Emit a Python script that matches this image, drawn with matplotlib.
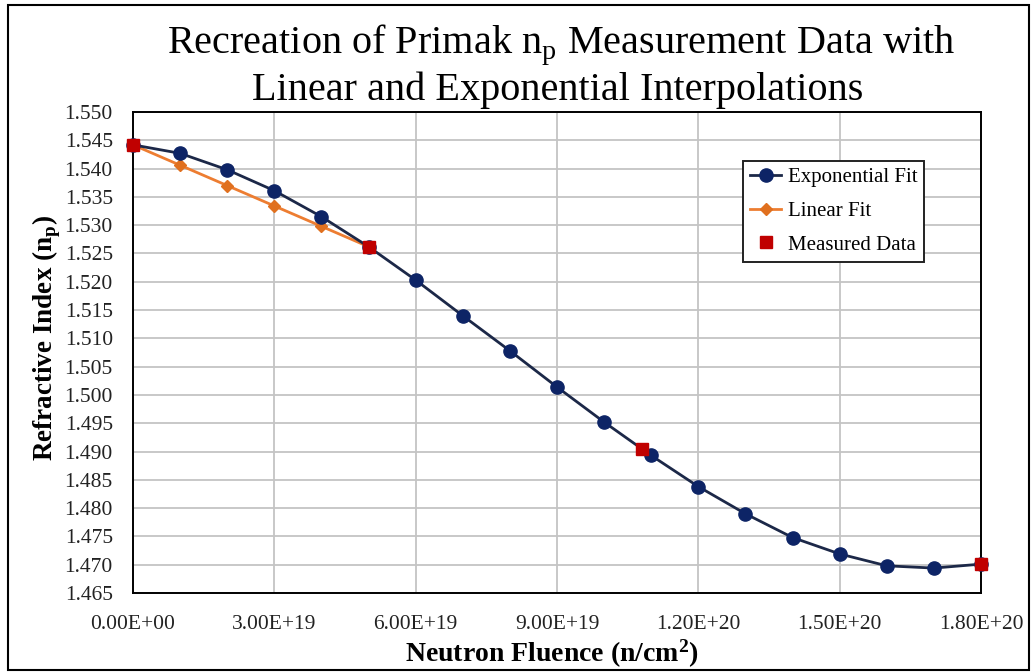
import matplotlib
matplotlib.use("Agg")
import matplotlib.pyplot as plt
from matplotlib.patches import Rectangle
from matplotlib.ticker import FuncFormatter

plt.rcParams['font.family'] = ['Liberation Serif', 'DejaVu Serif']
plt.rcParams['mathtext.fontset'] = 'custom'
plt.rcParams['mathtext.rm'] = 'Liberation Serif'
plt.rcParams['mathtext.bf'] = 'Liberation Serif:bold'

# fluence (n/cm^2) and refractive index n_p
exp_fluence = [0, 1e19, 2e19, 3e19, 4e19, 5e19, 6e19, 7e19, 8e19, 9e19,
               1.0e20, 1.1e20, 1.2e20, 1.3e20, 1.4e20, 1.5e20, 1.6e20, 1.7e20, 1.8e20]
exp_index = [1.5442, 1.5427, 1.5398, 1.5361, 1.5315, 1.5262, 1.5203, 1.5140, 1.5078, 1.5014,
             1.4952, 1.4893, 1.4838, 1.4790, 1.4748, 1.4719, 1.4698, 1.4694, 1.4701]

lin_fluence = [0, 1e19, 2e19, 3e19, 4e19, 5e19]
lin_index = [1.5442, 1.5406, 1.5370, 1.5334, 1.5298, 1.5262]

meas_fluence = [0, 5e19, 1.08e20, 1.8e20]
meas_index = [1.5442, 1.5262, 1.4904, 1.4701]

x_ticks = [0, 3e19, 6e19, 9e19, 1.2e20, 1.5e20, 1.8e20]
y_ticks = [1.465 + 0.005 * i for i in range(18)]

fig = plt.figure(figsize=(10.31, 6.72), dpi=100)
ax = fig.add_axes([0.129, 0.1176, 0.8225, 0.7157])

ax.plot(exp_fluence, exp_index, color='#1c2848', lw=2, marker='o', ms=9.5,
        mfc='#0d2466', mec='#0d2466', label='Exponential Fit', zorder=3, clip_on=False)
ax.plot(lin_fluence, lin_index, color='#ed7d31', lw=2, marker='D', ms=6.5,
        mfc='#e0701f', mec='#e0701f', label='Linear Fit', zorder=2, clip_on=False)
ax.plot(meas_fluence, meas_index, ls='none', marker='s', ms=9,
        mfc='#c00000', mec='#c00000', label='Measured Data', zorder=4, clip_on=False)

ax.set_xlim(0, 1.8e20)
ax.set_ylim(1.465, 1.550)
ax.set_xticks(x_ticks)
ax.set_yticks(y_ticks)
ax.xaxis.set_major_formatter(FuncFormatter(lambda v, p: '{:.2E}'.format(v)))
ax.yaxis.set_major_formatter(FuncFormatter(lambda v, p: '{:.3f}'.format(v)))
ax.tick_params(axis='both', length=0, labelsize=15.5, colors='#222222')
ax.tick_params(axis='y', pad=14.5)
ax.tick_params(axis='x', pad=16)
ax.grid(True, color='#c4c4c4', lw=1.3)
ax.set_axisbelow(True)
for s in ax.spines.values():
    s.set_color('black')
    s.set_linewidth(1.4)

leg = ax.legend(loc='upper left', bbox_to_anchor=(0.719, 0.899), fontsize=15,
                frameon=True, fancybox=False, framealpha=1, edgecolor='#222222',
                handlelength=1.5, handletextpad=0.3, labelspacing=0.67,
                borderpad=0.35, borderaxespad=0)
leg.get_frame().set_linewidth(1.4)

fig.text(0.544, 0.921, r'Recreation of Primak n$_\mathregular{p}$ Measurement Data with',
         ha='center', va='baseline', fontsize=29)
fig.text(0.541, 0.851, 'Linear and Exponential Interpolations',
         ha='center', va='baseline', fontsize=29)

fig.text(0.535, 0.016, r'Neutron Fluence (n/cm$\mathbf{^2}$)', ha='center', va='baseline',
         fontsize=20, fontweight='bold')
fig.text(0.045, 0.497, r'Refractive Index (n$_\mathbf{p}$)', ha='center', va='center',
         rotation=90, fontsize=19.5, fontweight='bold')

fig.patches.append(Rectangle((8 / 1031, 2 / 672), 1021 / 1031, 665 / 672,
                             transform=fig.transFigure, fill=False,
                             edgecolor='black', lw=1.5))

fig.savefig('out.png', dpi=100)
